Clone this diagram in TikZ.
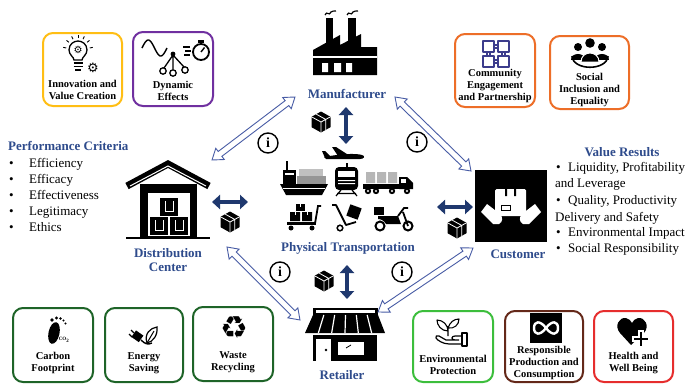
\documentclass[tikz,border=0pt]{standalone}
\usepackage{fontspec}
\setmainfont{Liberation Serif}
\newfontfamily\dejavu{DejaVu Sans}
\usetikzlibrary{arrows.meta,shapes.arrows,shapes.geometric,calc}

\definecolor{labelblue}{RGB}{46,75,140}
\definecolor{navyarrow}{RGB}{31,56,110}
\definecolor{linkblue}{RGB}{72,92,165}
\definecolor{goldframe}{RGB}{255,190,20}
\definecolor{purpleframe}{RGB}{112,48,160}
\definecolor{orangeframe}{RGB}{237,110,40}
\definecolor{darkgreenframe}{RGB}{30,100,40}
\definecolor{lightgreenframe}{RGB}{60,190,60}
\definecolor{brownframe}{RGB}{100,40,25}
\definecolor{redframe}{RGB}{230,45,45}
\definecolor{puzzleblue}{RGB}{60,60,140}
\definecolor{cargogray}{RGB}{150,150,150}

\tikzset{
  goalbox/.style={draw=#1, line width=2pt, rounded corners=10pt, fill=white, inner sep=0pt},
  goaltext/.style={font=\bfseries\fontsize{10.5}{12}\selectfont, align=center, inner sep=0pt},
  actor/.style={font=\bfseries\fontsize{13}{14}\selectfont, text=labelblue, align=center, inner sep=0pt},
  listtext/.style={font=\fontsize{13}{16}\selectfont, inner sep=0pt, anchor=base west},
  infoicon/.style={circle, draw, line width=1.4pt, minimum size=20pt, inner sep=0pt,
    font=\bfseries\fontsize{14}{14}\selectfont},
  flowlink/.style={double arrow, draw=linkblue, fill=white, line width=0.9pt,
    inner xsep=0pt, inner ysep=2.6pt, minimum width=0pt,
    double arrow head extend=4pt, double arrow head indent=0pt, double arrow tip angle=70},
  goodsflow/.style={draw=navyarrow, line width=4.5pt,
    {Triangle[length=8pt,width=14pt]}-{Triangle[length=8pt,width=14pt]}},
  glyph/.style={font=\dejavu\fontsize{#1}{#1}\selectfont, inner sep=0pt},
  pics/parcel/.style={code={
    \fill[black] (0,-10.5) -- (9.5,-5.2) -- (9.5,5.2) -- (0,10.5) -- (-9.5,5.2) -- (-9.5,-5.2) -- cycle;
    \draw[white, line width=0.8pt] (-9.5,-5.2) -- (0,0) -- (9.5,-5.2) (0,0) -- (0,10.5)
      (-4.7,-7.8) -- (4.7,-2.6) -- (4.7,7.8);
  }},
}

% hollow two-way link between two named points
\newcommand\hollowlink[3]{%
  \path let \p1=(#2), \p2=(#3),
    \n1={atan2(\y2-\y1,\x2-\x1)}, \n2={veclen(\x2-\x1,\y2-\y1)} in
    node[flowlink, minimum height=\n2, rotate=\n1] (#1) at ($(\p1)!0.5!(\p2)$) {};}

\begin{document}
\begin{tikzpicture}[x=1pt,y=-1pt]
\useasboundingbox (0,0) rectangle (688,383);
\fill[white] (0,0) rectangle (688,383);

% ---------- goal boxes, top row ----------
\node[goalbox=goldframe, minimum width=79pt, minimum height=73pt] (innovbox) at (82.5,69.5) {};
\node[goaltext] (innov) at (82.5,89.5) {Innovation and\\Value Creation};
\node[goalbox=purpleframe, minimum width=80pt, minimum height=74pt] (dynbox) at (173,69) {};
\node[goaltext] (dyn) at (173,91) {Dynamic\\Effects};
\node[goalbox=orangeframe, minimum width=80pt, minimum height=73pt] (commbox) at (495,70.5) {};
\node[goaltext] (comm) at (495,85.5) {Community\\Engagement\\and Partnership};
\node[goalbox=orangeframe, minimum width=79pt, minimum height=73pt] (socbox) at (589.5,72.5) {};
\node[goaltext] (soc) at (589.5,89.5) {Social\\Inclusion and\\Equality};

% ---------- goal boxes, bottom row ----------
\node[goalbox=darkgreenframe, minimum width=80pt, minimum height=74pt] (carbbox) at (53,345) {};
\node[goaltext] (carb) at (53,363) {Carbon\\Footprint};
\node[goalbox=darkgreenframe, minimum width=78pt, minimum height=74pt] (enbox) at (144,345) {};
\node[goaltext] (en) at (144,363.5) {Energy\\Saving};
\node[goalbox=darkgreenframe, minimum width=80pt, minimum height=74pt] (wastebox) at (233,344) {};
\node[goaltext] (waste) at (233,362) {Waste\\Recycling};
\node[goalbox=lightgreenframe, minimum width=80pt, minimum height=71pt] (envbox) at (453,346.5) {};
\node[goaltext] (env) at (453,364.5) {Environmental\\Protection};
\node[goalbox=brownframe, minimum width=78pt, minimum height=71pt] (respbox) at (544,346.5) {};
\node[goaltext] (resp) at (544,363) {Responsible\\Production and\\Consumption};
\node[goalbox=redframe, minimum width=79pt, minimum height=71pt] (healthbox) at (633.5,346.5) {};
\node[goaltext] (health) at (633.5,363) {Health and\\Well Being};

% ---------- goal icons ----------
% light bulb with gears
\draw[line width=1.3pt] (74,60) .. controls (74,57) and (69,55) .. (69,50)
  .. controls (69,44) and (74,41) .. (78,41) .. controls (82,41) and (87,44) .. (87,50)
  .. controls (87,55) and (82,57) .. (82,60) -- cycle;
\draw[line width=1.6pt] (73.5,63) -- (82.5,63) (73.5,66.5) -- (82.5,66.5) (75,70) -- (81,70);
\foreach \a in {-10,-40,-65,-90,-115,-140,-170}
  \draw[line width=0.9pt] ($(78,50)+(\a:12)$) -- ($(78,50)+(\a:15)$);
\node[glyph=10] (bulbgear) at (78,50) {⚙};
\node[glyph=13] (sidegear) at (93,68) {⚙};
% wave, stopwatch and branching nodes
\draw[line width=1.4pt, domain=0:360, samples=40, smooth] plot ({142+\x/14.4}, {48-8*sin(\x)});
\draw[line width=1.8pt] (201,52) circle (8);
\fill (198,39.5) rectangle (204,43);
\draw[line width=1.4pt] (201,52) -- (204.5,47.5);
\draw[line width=1.2pt] (183,47) -- (190,47) (185,51) -- (191,51) (184,55) -- (190,55);
\draw[line width=1.3pt] (173,55) -- (164,68) (173,55) -- (173,69) (173,55) -- (184,67);
\fill (173,54) circle (2.4);
\draw[line width=1.3pt, fill=white] (163,71) circle (3.2) (173,73) circle (3.2) (185,70) circle (3.2);
% interlocking pieces
\begin{scope}[puzzleblue, line width=1.2pt, line join=round]
  \draw (483,41) rectangle (494,52) (498,41) rectangle (509,52)
        (483,56) rectangle (494,67) (498,56) rectangle (509,67);
  \draw (494,45) -- (498,45) (494,48) -- (498,48) (494,60) -- (498,60) (494,63) -- (498,63)
        (487,52) -- (487,56) (490,52) -- (490,56) (502,52) -- (502,56) (505,52) -- (505,56);
\end{scope}
% group of people
\fill (590,43) circle (4.8);
\fill (578,47) circle (4);
\fill (602,47) circle (4);
\fill (571,60) .. controls (571,52) and (585,52) .. (585,60) -- cycle;
\fill (595,60) .. controls (595,52) and (609,52) .. (609,60) -- cycle;
\draw[white, line width=1pt, fill=black] (581,62) .. controls (581,50) and (599,50) .. (599,62) -- cycle;
\draw[line width=1.6pt] (572,56) .. controls (573,71) and (607,71) .. (608,56);
% footprint
\fill[rotate around={-12:(54,333)}] (54,333) ellipse (5.5 and 11);
\fill (52,320) circle (1.8) (56.5,318) circle (1.6) (60.5,318.5) circle (1.4)
      (63.5,320.5) circle (1.2) (65.5,323.5) circle (1.1);
\node[font=\bfseries\fontsize{5}{5}\selectfont, inner sep=0pt] (co2) at (64,340) {CO\textsubscript{2}};
% plug and leaf
\fill[rotate around={-35:(137,336)}] (133,332) rectangle (142,340);
\draw[line width=1.1pt] (131,330) -- (134,333) (129,334) -- (132,337);
\draw[line width=1.4pt] (141,340) .. controls (145,344) and (148,345) .. (152,343);
\draw[line width=1.2pt] (147,343) .. controls (144,334) and (150,328) .. (157,327)
  .. controls (158,335) and (153,342) .. (147,343) -- cycle;
\draw[line width=1pt] (147,343) -- (154,331);
% recycling
\node[glyph=31] (recyc) at (234,328) {♻};
% hand with seedling
\draw[line width=1.2pt, line join=round] (462,333) rectangle (467,346);
\draw[line width=1.2pt, line join=round]
  (462,336) -- (455,336) .. controls (451,336) and (451,340) .. (455,340) -- (459,340)
  (462,344) -- (449,344) .. controls (443,344) and (437,340) .. (436,338)
  .. controls (435,336) and (437,335) .. (439,336) -- (446,340) -- (455,340);
\draw[line width=1.1pt, line join=round] (448,336) -- (448,326)
  (448,331) .. controls (441,331) and (437,325) .. (437,320) .. controls (443,320) and (448,325) .. (448,331)
  (448,328) .. controls (450,322) and (454,319) .. (459,319) .. controls (459,325) and (454,329) .. (448,328);
% infinity
\fill (530,313) rectangle (562,343);
\draw[white, line width=2.4pt] (546,328) .. controls (540,320) and (534,321) .. (534,328)
  .. controls (534,335) and (540,336) .. (546,328) .. controls (552,320) and (558,321) .. (558,328)
  .. controls (558,335) and (552,336) .. (546,328);
% heart with plus
\fill (631,345) -- (620,333) .. controls (614,326) and (619,317) .. (626,318)
  .. controls (629,318.5) and (631,321) .. (632,323) .. controls (633,321) and (635,318.5) .. (638,318)
  .. controls (645,317) and (650,326) .. (644,333) -- cycle;
\draw[white, line width=1.5pt, fill=black] (639,331) -- (643,331) -- (643,337) -- (649,337) -- (649,341)
  -- (643,341) -- (643,347) -- (639,347) -- (639,341) -- (633,341) -- (633,337) -- (639,337) -- cycle;

% ---------- manufacturer ----------
\fill (326,18) rectangle (333,45);
\fill (348,18) rectangle (356,45);
\draw[line width=1.2pt] (325,15) .. controls (327,10) and (329,17) .. (331,12) .. controls (332,10) and (334,12) .. (336,11);
\draw[line width=1.2pt] (347,15) .. controls (349,10) and (351,17) .. (353,12) .. controls (354,10) and (356,12) .. (358,11);
\fill (313,75) -- (313,50) -- (340,35) -- (340,45) -- (361,34) -- (361,47) -- (377,47) -- (377,75) -- cycle;
\fill[white] (313,56) rectangle (377,58);
\fill[white] (322,63) rectangle (328,72) (334,63) rectangle (341,72) (346,63) rectangle (352,72);
\node[actor] (mfg) at (347,94) {Manufacturer};

% ---------- distribution center ----------
\draw[line width=7pt, line join=miter] (127,186) -- (168,164) -- (209,186);
\draw[white, line width=1pt] (130,186) -- (168,166) -- (206,186);
\fill (140,184) rectangle (197,238);
\fill[white] (148,193) rectangle (190,236);
\fill (126,236.5) rectangle (210,239);
\foreach \bx/\by in {160/198, 150/217, 170/217}{
  \fill (\bx,\by) rectangle ++(18,18);
  \draw[white, line width=0.8pt] (\bx+5,\by+3) -- (\bx+5,\by+13) -- (\bx+13,\by+13) -- (\bx+13,\by+3);
}
\node[actor] (dc) at (168,260) {Distribution\\Center};

% ---------- customer ----------
\node[fill=black, minimum width=72pt, minimum height=72pt, inner sep=0pt] (custicon) at (511,206) {};
\fill[white, rounded corners=1.5pt] (495,189) rectangle (526,216);
\fill (505,189) rectangle (507,196) (514,189) rectangle (516,196);
\draw[line width=0.8pt] (501,205) rectangle (510,210);
\fill[white] (481,212) -- (487,204) -- (500,214) .. controls (503,217) and (503,222) .. (499,224) -- (493,224) -- cycle;
\fill[white] (541,212) -- (535,204) -- (522,214) .. controls (519,217) and (519,222) .. (523,224) -- (529,224) -- cycle;
\node[actor] (cust) at (518,254) {Customer};

% ---------- retailer ----------
\fill (313,308) rectangle (378,315);
\fill[white] (316,310) rectangle (375,313);
\fill (313,315) -- (378,315) -- (385,333) -- (305,333) -- cycle;
\foreach \k in {1,...,5}
  \draw[white, line width=1.2pt] ({313+\k*65/6},315) -- ({305+\k*80/6},333);
\fill (313,335) rectangle (377,361);
\fill[white] (316,339) rectangle (331,361);
\fill (326,350) circle (1.3);
\fill[white] (338,342) rectangle (364,355);
\draw[line width=0.8pt] (346,348) -- (351,345);
\node[actor] (ret) at (342,375) {Retailer};

% ---------- physical transportation ----------
% plane
\fill (324,157) .. controls (340,154) and (355,153) .. (362,155) .. controls (366,156) and (364,159) .. (360,159) -- (326,159) -- cycle;
\fill (338,156) -- (332,147) -- (336,147) -- (350,156) -- cycle;
\fill (325,158) -- (322,151) -- (325,151) -- (331,157) -- cycle;
% ship
\fill (286,161) rectangle (288,170);
\fill (283,170) rectangle (296,184);
\fill[white] (285,173) rectangle (294,175);
\fill[cargogray] (297,176) rectangle (326,183.5);
\fill[cargogray!60] (299,169) rectangle (323,175.5);
\fill (280,184) -- (328,184) -- (322,195) -- (286,195) -- cycle;
\fill[white] (283,187.5) rectangle (325,188.5);
% train
\fill (346,163) rectangle (348,167);
\fill[rounded corners=4pt] (335,167) rectangle (358,190);
\fill[white] (338,171) rectangle (355,177);
\fill[white] (338,180) rectangle (355,181) (338,183) rectangle (355,184);
\draw[line width=1.2pt] (341,190) -- (336,196) (352,190) -- (357,196) (337,193.5) -- (356,193.5);
% truck
\fill (363,184) rectangle (399,189);
\fill[cargogray!70] (366,172) rectangle (375,183) (377,172) rectangle (386,183) (388,172) rectangle (397,183);
\fill (399,189) -- (399,177) -- (407,177) -- (413,183) -- (413,189) -- cycle;
\fill[white] (401,179) rectangle (406,183);
\foreach \wx in {368,376,392,407}{\fill (\wx,191) circle (3.2); \fill[white] (\wx,191) circle (1.2);}
% platform trolley
\fill (287,222) rectangle (316,225);
\draw[line width=1.8pt] (315,223.5) -- (318,206) -- (321,206);
\foreach \wx in {291,312}{\fill (\wx,228) circle (2.5);}
\fill (290,212) rectangle (300,221) (302,212) rectangle (312,221);
\fill (296,204) rectangle (305,211);
\draw[white, line width=0.6pt] (295,212) -- (295,215) (307,212) -- (307,215) (300.5,204) -- (300.5,207);
% hand truck
\draw[line width=1.8pt, line join=round] (332,205) -- (336,205) -- (346,225) -- (356,222);
\draw[line width=1.5pt] (340,228) circle (2.8);
\fill[rotate around={-20:(354,212)}] (348,206) rectangle (360,218);
% scooter
\draw[line width=2pt] (380,226) circle (4.5) (408,226) circle (4.5);
\fill (374,207) rectangle (384,215);
\fill (378,216) -- (398,216) -- (401,224) -- (386,224) .. controls (384,220) and (380,219) .. (378,219) -- cycle;
\draw[line width=1.8pt] (398,216) -- (404,208) -- (408,208) (403,212) -- (408,226);
\node[actor] (hub) at (348,248) {Physical Transportation};

% ---------- goods flows ----------
\coordinate (mfgS) at (346,107);
\coordinate (hubN) at (346,144);
\coordinate (hubS) at (347,265);
\coordinate (retN) at (347,299);
\coordinate (dcE) at (212,202);
\coordinate (hubW) at (248,202);
\coordinate (hubE) at (437,207);
\coordinate (custW) at (473,207);
\draw[goodsflow] (mfgS) -- (hubN);
\draw[goodsflow] (hubS) -- (retN);
\draw[goodsflow] (dcE) -- (hubW);
\draw[goodsflow] (hubE) -- (custW);
\pic (cubeN) at (321,122) {parcel};
\pic (cubeS) at (324,281) {parcel};
\pic (cubeW) at (230,222) {parcel};
\pic (cubeE) at (457,228) {parcel};

% ---------- information links ----------
\coordinate (dcNE) at (212,160);
\coordinate (mfgSW) at (295,97);
\coordinate (mfgSE) at (395,97);
\coordinate (custNW) at (471,171);
\coordinate (dcSE) at (227,247);
\coordinate (retNW) at (300,320);
\coordinate (retNE) at (378,312);
\coordinate (custSW) at (473,248);
\hollowlink{linkA}{dcNE}{mfgSW}
\hollowlink{linkB}{mfgSE}{custNW}
\hollowlink{linkC}{dcSE}{retNW}
\hollowlink{linkD}{retNE}{custSW}
\node[infoicon] (infoA) at (268,143) {i};
\node[infoicon] (infoB) at (417,142) {i};
\node[infoicon] (infoC) at (280,272) {i};
\node[infoicon] (infoD) at (402,272) {i};

% ---------- performance criteria ----------
\node[actor, anchor=base west] (pctitle) at (8,150) {Performance Criteria};
\node[listtext] (pc1) at (9,167) {\makebox[20pt][l]{\textbullet}Efficiency};
\node[listtext] (pc2) at (9,183) {\makebox[20pt][l]{\textbullet}Efficacy};
\node[listtext] (pc3) at (9,199) {\makebox[20pt][l]{\textbullet}Effectiveness};
\node[listtext] (pc4) at (9,215) {\makebox[20pt][l]{\textbullet}Legitimacy};
\node[listtext] (pc5) at (9,231) {\makebox[20pt][l]{\textbullet}Ethics};

% ---------- value results ----------
\node[actor] (vrtitle) at (622,152) {Value Results};
\node[listtext] (vr1) at (556,171) {\makebox[12pt][l]{\textbullet}Liquidity, Profitability};
\node[listtext] (vr2) at (555,187) {and Leverage};
\node[listtext] (vr3) at (556,204) {\makebox[12pt][l]{\textbullet}Quality, Productivity};
\node[listtext] (vr4) at (555,221) {Delivery and Safety};
\node[listtext] (vr5) at (556,236) {\makebox[12pt][l]{\textbullet}Environmental Impact};
\node[listtext] (vr6) at (556,252) {\makebox[12pt][l]{\textbullet}Social Responsibility};
\end{tikzpicture}
\end{document}
